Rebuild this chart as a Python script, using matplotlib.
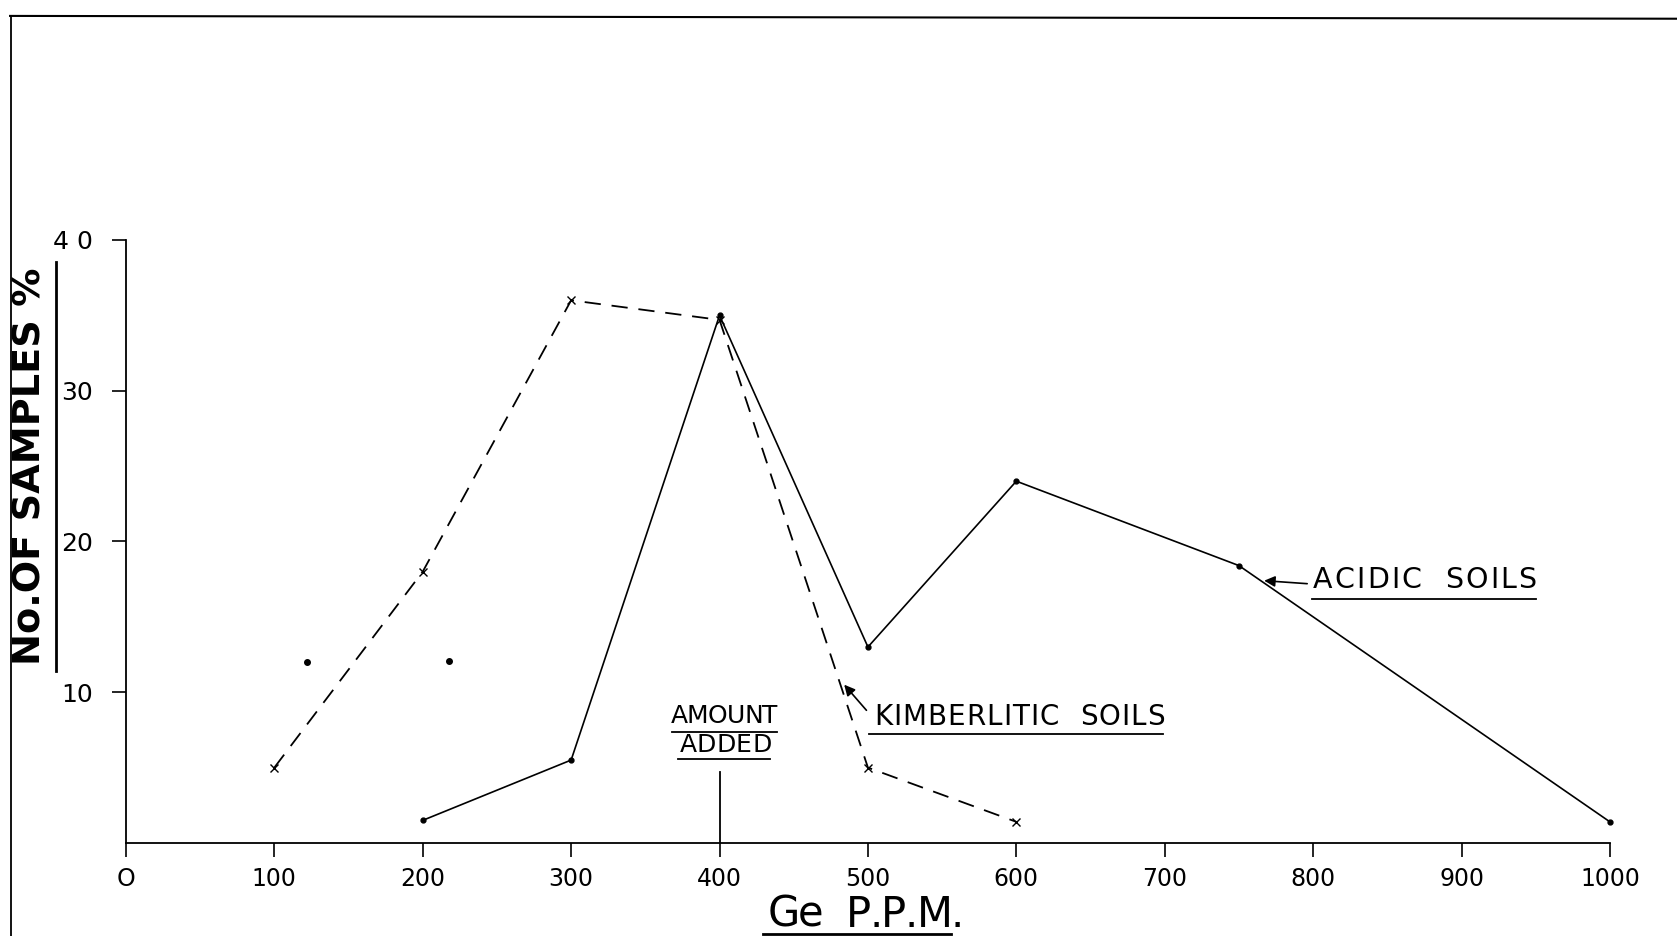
import matplotlib
matplotlib.use("Agg")
import matplotlib.pyplot as plt
from matplotlib.lines import Line2D
from matplotlib.transforms import offset_copy
from matplotlib.font_manager import FontProperties

# ---- data ----
kimb_x = [100, 200, 300, 400, 500, 600]
kimb_y = [5.0, 18.0, 36.0, 34.7, 5.0, 1.4]

acid_x = [200, 300, 400, 500, 600, 750, 1000]
acid_y = [1.5, 5.5, 35.0, 13.0, 24.0, 18.4, 1.4]

x_ticks = [0, 100, 200, 300, 400, 500, 600, 700, 800, 900, 1000]
x_tick_labels = ["O", "100", "200", "300", "400", "500", "600", "700", "800", "900", "1000"]
y_ticks = [10, 20, 30, 40]
y_tick_labels = ["10", "20", "30", "4 0"]

amount_added_x = 400
specks_x = [122, 218]
specks_y = [12.0, 12.1]

plt.rcParams['font.family'] = ['DejaVu Sans']

fig = plt.figure(figsize=(16.77, 9.36), dpi=100)
ax = fig.add_axes([0.0751, 0.0994, 0.8849, 0.6442])
renderer = fig.canvas.get_renderer()


def spaced_text(ax, x, y, s, fontsize, width_px, transform=None, weight='normal'):
    """Draw s with letters spread so that it spans width_px pixels."""
    if transform is None:
        transform = ax.transData
    prop = FontProperties(family='DejaVu Sans', size=fontsize, weight=weight)
    ws = []
    for ch in s:
        if ch == ' ':
            w1, _, _ = renderer.get_text_width_height_descent("n n", prop, ismath=False)
            w2, _, _ = renderer.get_text_width_height_descent("nn", prop, ismath=False)
            ws.append(w1 - w2)
        else:
            w, _, _ = renderer.get_text_width_height_descent(ch, prop, ismath=False)
            ws.append(w)
    natural = sum(ws)
    track = (width_px - natural) / max(len(s) - 1, 1)
    off = 0.0
    for ch, w in zip(s, ws):
        if ch != ' ':
            tr = offset_copy(transform, fig=fig, x=off, y=0, units='dots')
            ax.text(x, y, ch, fontproperties=prop, ha='left', va='center',
                    transform=tr)
        off += w + track


ax.plot(kimb_x, kimb_y, color='black', lw=1.3, ls=(0, (9, 6)),
        marker='x', ms=6, mew=1.0, clip_on=False)
ax.plot(acid_x, acid_y, color='black', lw=1.2, ls='-',
        marker='o', ms=3.5, clip_on=False)
ax.plot(specks_x, specks_y, ls='none', marker='o', ms=4, color='black')

ax.set_xlim(0, 1000)
ax.set_ylim(0, 40)
ax.spines['top'].set_visible(False)
ax.spines['right'].set_visible(False)
for s in ('left', 'bottom'):
    ax.spines[s].set_linewidth(1.3)

ax.set_xticks(x_ticks)
ax.set_xticklabels(x_tick_labels, fontsize=17)
ax.set_yticks(y_ticks)
ax.set_yticklabels(y_tick_labels, fontsize=18)
ax.tick_params(axis='both', direction='out', length=10, width=1.2)
ax.tick_params(axis='x', pad=7)
ax.tick_params(axis='y', pad=14)

# Y label with underline
fig.text(0.018, 0.502, "No.OF SAMPLES %", rotation=90, fontsize=27.5,
         fontweight='bold', ha='center', va='center')
fig.add_artist(Line2D([0.0334, 0.0334], [0.283, 0.72], color='black', lw=2.0))

# X label with underline
spaced_text(ax, 0.4575, 0.0225, "Ge  P.P.M.", 30, 197, transform=fig.transFigure)
fig.add_artist(Line2D([0.455, 0.567], [0.002, 0.002], color='black', lw=2.0))

# Amount added
ax.plot([amount_added_x, amount_added_x], [0, 4.7], color='black', lw=1.3)
spaced_text(ax, 367, 8.45, "AMOUNT", 18, 107)
ax.plot([368, 439], [7.35, 7.35], color='black', lw=1.3)
spaced_text(ax, 373, 6.5, "ADDED", 18, 92)
ax.plot([372, 434], [5.6, 5.6], color='black', lw=1.3)

# Kimberlitic soils
spaced_text(ax, 504, 8.35, "KIMBERLITIC  SOILS", 20, 291)
ax.plot([501, 699], [7.2, 7.2], color='black', lw=1.3)
ax.annotate("", xy=(484, 10.5), xytext=(499, 8.8),
            arrowprops=dict(arrowstyle='-|>', color='black', lw=1.2,
                            mutation_scale=16, shrinkA=0, shrinkB=0))

# Acidic soils
spaced_text(ax, 800, 17.45, "ACIDIC  SOILS", 20.5, 223)
ax.plot([799, 950], [16.2, 16.2], color='black', lw=1.3)
ax.annotate("", xy=(767, 17.4), xytext=(796, 17.2),
            arrowprops=dict(arrowstyle='-|>', color='black', lw=1.2,
                            mutation_scale=16, shrinkA=0, shrinkB=0))

# page border
fig.add_artist(Line2D([0.006, 1.0], [0.983, 0.980], color='black', lw=1.5))
fig.add_artist(Line2D([0.0065, 0.0065], [0.0, 0.983], color='black', lw=1.3))

fig.savefig("out.png", dpi=100)
